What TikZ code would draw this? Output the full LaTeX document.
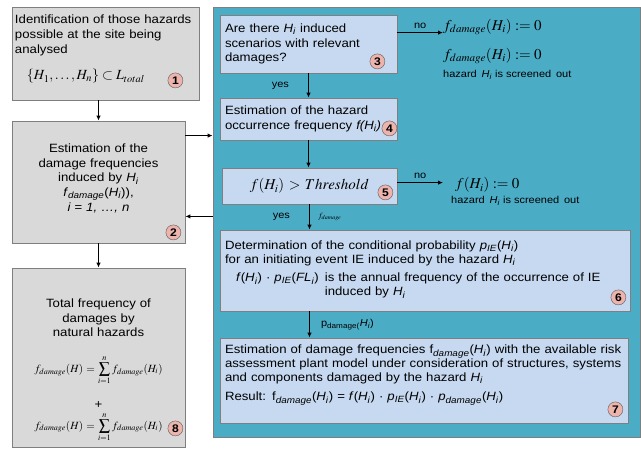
\documentclass[tikz,border=0pt]{standalone}
\usepackage{mathptmx}
\usepackage{fontspec}
\setmainfont{Liberation Sans}[FakeStretch=1.1]
\usetikzlibrary{positioning,arrows.meta}
\definecolor{panelteal}{RGB}{75,172,198}
\definecolor{boxgray}{RGB}{217,217,217}
\definecolor{boxblue}{RGB}{198,217,240}
\definecolor{edgegray}{RGB}{127,127,127}
\definecolor{numpink}{RGB}{236,180,172}
\newcommand{\hazI}{\textit{H}\textsubscript{\textit{i}}}
\newcommand{\fdam}{\textit{f}\textsubscript{\textit{damage}}}

\begin{document}
\begin{tikzpicture}[
    x=1pt, y=-1pt,
    txt/.style={font=\fontsize{12}{14.7}\selectfont},
    greybox/.style={rectangle, draw=edgegray, fill=boxgray, line width=0.8pt,
                    txt, inner sep=3pt},
    bluebox/.style={rectangle, draw=edgegray, fill=boxblue, line width=0.8pt,
                    txt, inner sep=5pt, align=left},
    num/.style={circle, draw=black!65, fill=numpink, inner sep=0pt,
                minimum size=15pt, font=\fontsize{11}{11}\selectfont\bfseries},
    arr/.style={-{Latex[length=5pt,width=4.5pt]}, line width=1.1pt},
    lbl/.style={font=\fontsize{10}{11}\selectfont, inner sep=1pt},
    res/.style={font=\fontsize{15}{17}\selectfont, inner sep=0pt},
    scr/.style={font=\fontsize{10}{11}\selectfont, inner sep=0pt}
]
\useasboundingbox (0,0) rectangle (641,450);
\fill[white] (0,0) rectangle (641,450);

% left column
\node[greybox, minimum width=187pt, minimum height=93pt, text width=181pt,
      align=left] (ident) at (105.5,53.5)
  {Identification of those hazards\\ possible at the site being\\ analysed\\[12pt]
   \hspace*{12pt}{\fontsize{14}{16}\selectfont$\{H_1,\ldots,H_n\}\subset L_{total}$}\rule[-12pt]{0pt}{0pt}};
\node[greybox, minimum width=173pt, minimum height=122pt, text width=167pt,
      align=center] (freqest) at (98.5,182)
  {Estimation of the\\ damage frequencies\\ induced by \hazI\\
   \fdam(\hazI)),\\ \textit{i = 1, …, n}\rule[-9pt]{0pt}{0pt}};
\node[greybox, minimum width=173pt, minimum height=179pt, text width=167pt,
      align=center] (total) at (98.5,357.5)
  {\rule{0pt}{34pt}Total frequency of\\ damages by\\ natural hazards\\[18pt]
   {\fontsize{11}{13}\selectfont$\displaystyle f_{damage}(H)=\sum_{i=1}^{n} f_{damage}(H_i)$}\\[16pt]
   +\\[3pt]
   {\fontsize{11}{13}\selectfont$\displaystyle f_{damage}(H)=\sum_{i=1}^{n} f_{damage}(H_i)$}\hspace*{4pt}};
\draw[arr] (ident.south -| freqest.north) -- (freqest.north);
\draw[arr] (freqest.south) -- (total.north);

% screening panel
\node[draw=edgegray, fill=panelteal, line width=0.8pt, minimum width=427pt,
      minimum height=430pt, inner sep=0pt] (panel) at (426.5,222) {};
\coordinate (toPanel) at ([yshift=-15pt]freqest.north east);
\coordinate (fromPanel) at ([yshift=27pt]freqest.south east);
\draw[arr] (toPanel) -- (toPanel -| panel.west);
\draw[arr] (fromPanel -| panel.west) -- (fromPanel);

\node[bluebox, minimum width=177pt, minimum height=58pt, text width=167pt]
  (relev) at (308.5,44)
  {Are there \hazI\ induced\\ scenarios with relevant\\ damages?};
\node[bluebox, minimum width=177pt, minimum height=42pt, text width=167pt]
  (occfreq) at (308.5,119)
  {Estimation of the hazard\\ occurrence frequency \textit{f(H\textsubscript{i})}};
\node[bluebox, minimum width=175pt, minimum height=36pt, text width=165pt,
      align=center] (thresh) at (309.5,186)
  {{\fontsize{15}{17}\selectfont$f(H_i)>Threshold$}\hspace*{8pt}};
\node[bluebox, minimum width=410pt, minimum height=81pt, text width=400pt,
      font=\fontsize{12}{14}\selectfont] (probIE) at (425,270.5)
  {Determination of the conditional probability \textit{p}\textsubscript{\textit{IE}}(\hazI)\\
   for an initiating event IE induced by the hazard \hazI\\[5pt]
   \hspace*{11pt}\begin{tabular}{@{}l@{\hspace{6pt}}l@{}}
   \textit{f}(\hazI) · \textit{p}\textsubscript{\textit{IE}}(\textit{FL}\textsubscript{\textit{i}}) &
   is the annual frequency of the occurrence of IE\\
   & induced by \hazI
   \end{tabular}};
\node[bluebox, minimum width=408pt, minimum height=85pt, text width=398pt,
      font=\fontsize{12}{13.6}\selectfont] (damfreq) at (424,380.5)
  {Estimation of damage frequencies f\textsubscript{\textit{damage}}(\hazI) with the available risk\\
   assessment plant model under consideration of structures, systems\\
   and components damaged by the hazard \hazI\\[6pt]
   Result: f\textsubscript{\textit{damage}}(\hazI) = \textit{f}(\hazI) · \textit{p}\textsubscript{\textit{IE}}(\hazI)
   · \textit{p}\textsubscript{\textit{damage}}(\hazI)\rule[-15pt]{0pt}{0pt}};

% flow inside the panel
\draw[arr] (relev.south) -- node[lbl, left=18pt] {yes} (occfreq.north);
\draw[arr] (occfreq.south) -- (occfreq.south |- thresh.north);
\draw[arr] (thresh.south) -- node[lbl, left=18pt] {yes}
  node[right=8pt, inner sep=0pt, font=\fontsize{8}{9}\selectfont] {$f_{damage}$}
  (thresh.south |- probIE.north);
\draw[arr] (probIE.south -| thresh.south) --
  node[lbl, right=10pt] {p\textsubscript{damage(}\hazI)}
  (damfreq.north -| thresh.south);

% screened out branches
\node[res, anchor=west] (zero3) at (443,27) {$f_{damage}(H_i):=0$};
\node[res, anchor=west] (zero3b) at (443,56) {$f_{damage}(H_i):=0$};
\node[scr, anchor=west] (out3) at (443,75) {hazard \,\hazI\ is screened\, out};
\coordinate (no3) at ([yshift=-18pt]relev.north east);
\draw[arr] (no3) -- node[lbl, above=2pt] {no} (no3 -| zero3.west);

\node[res, anchor=west] (zero5) at (455,185) {$f(H_i):=0$};
\node[scr, anchor=west] (out5) at (451,201) {hazard \,\hazI\ is screened\, out};
\coordinate (no5) at ([yshift=-15pt]thresh.north east);
\draw[arr] (no5) -- node[lbl, above=2pt] {no} ([xshift=-12pt]zero5.west |- no5);

% step numbers
\node[num] (c1) at ([xshift=-24pt,yshift=20pt]ident.south east) {1};
\node[num] (c2) at ([xshift=-12pt,yshift=11pt]freqest.south east) {2};
\node[num] (c3) at ([xshift=-20pt,yshift=12pt]relev.south east) {3};
\node[num] (c4) at ([xshift=-8pt,yshift=12pt]occfreq.south east) {4};
\node[num] (c5) at ([xshift=-12pt,yshift=12pt]thresh.south east) {5};
\node[num] (c6) at ([xshift=-12pt,yshift=14pt]probIE.south east) {6};
\node[num] (c7) at ([xshift=-13pt,yshift=14pt]damfreq.south east) {7};
\node[num] (c8) at ([xshift=-10pt,yshift=19pt]total.south east) {8};
\end{tikzpicture}
\end{document}
